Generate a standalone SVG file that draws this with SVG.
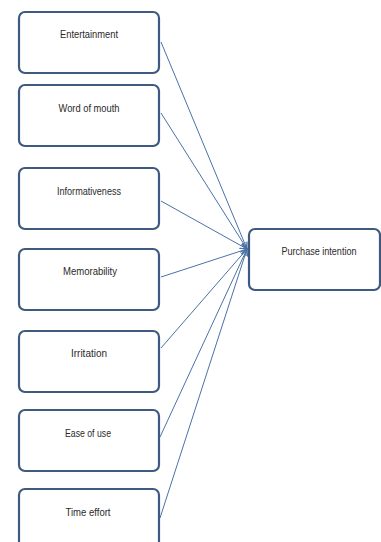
<svg xmlns="http://www.w3.org/2000/svg" width="381" height="542" viewBox="0 0 381 542">
<style>
.box{fill:#fff;stroke:#3e5a80;stroke-width:2.2}
.lbl{font-family:"Liberation Sans",Arial,sans-serif;font-size:11px;fill:#2a2a2a;text-anchor:middle}
.con{stroke:#4a72a6;stroke-width:1;fill:none;marker-end:url(#ah)}
</style>
<defs>
<marker id="ah" markerWidth="8" markerHeight="8" refX="7" refY="4" orient="auto" markerUnits="userSpaceOnUse">
<path d="M0,1 L7,4 L0,7" fill="none" stroke="#4a72a6" stroke-width="1"/>
</marker>
</defs>
<rect width="381" height="542" fill="#fff"/>
<g id="connectors">
<line class="con" x1="161" y1="42" x2="247" y2="249"/>
<line class="con" x1="161" y1="113" x2="247" y2="249"/>
<line class="con" x1="161" y1="201" x2="247" y2="249"/>
<line class="con" x1="161" y1="277" x2="247" y2="249"/>
<line class="con" x1="161" y1="348" x2="247" y2="249"/>
<line class="con" x1="160" y1="437" x2="247" y2="249"/>
<line class="con" x1="160" y1="518" x2="247" y2="249"/>
</g>
<g id="entertainment"><rect class="box" x="19" y="12" width="140" height="61" rx="6"/><text class="lbl" x="89" y="38" textLength="58" lengthAdjust="spacingAndGlyphs">Entertainment</text></g>
<g id="word-of-mouth"><rect class="box" x="19" y="85" width="140" height="61" rx="6"/><text class="lbl" x="89" y="112" textLength="61" lengthAdjust="spacingAndGlyphs">Word of mouth</text></g>
<g id="informativeness"><rect class="box" x="19" y="168" width="140" height="61" rx="6"/><text class="lbl" x="89" y="195" textLength="64" lengthAdjust="spacingAndGlyphs">Informativeness</text></g>
<g id="memorability"><rect class="box" x="19" y="249" width="140" height="61" rx="6"/><text class="lbl" x="90" y="275" textLength="54" lengthAdjust="spacingAndGlyphs">Memorability</text></g>
<g id="irritation"><rect class="box" x="19" y="331" width="140" height="61" rx="6"/><text class="lbl" x="89" y="357" textLength="36" lengthAdjust="spacingAndGlyphs">Irritation</text></g>
<g id="ease-of-use"><rect class="box" x="19" y="410" width="140" height="61" rx="6"/><text class="lbl" x="88" y="437" textLength="46" lengthAdjust="spacingAndGlyphs">Ease of use</text></g>
<g id="time-effort"><rect class="box" x="19" y="489" width="140" height="61" rx="6"/><text class="lbl" x="88" y="516" textLength="45" lengthAdjust="spacingAndGlyphs">Time effort</text></g>
<g id="purchase-intention"><rect class="box" x="249" y="229" width="131" height="61" rx="6"/><text class="lbl" x="319" y="255" textLength="75" lengthAdjust="spacingAndGlyphs">Purchase intention</text></g>
</svg>
